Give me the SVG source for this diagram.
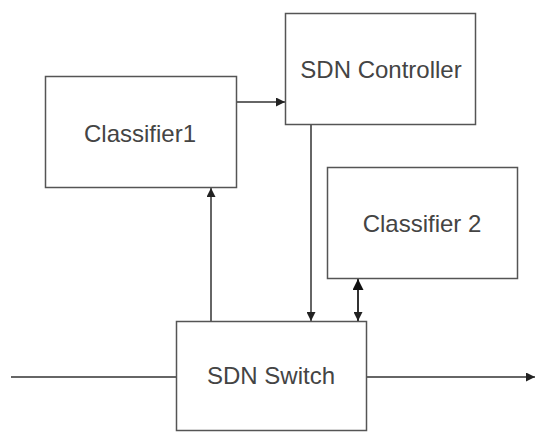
<svg xmlns="http://www.w3.org/2000/svg" width="536" height="432" viewBox="0 0 536 432">
<defs>
<marker id="ah" viewBox="0 0 10 10" refX="10" refY="5" markerWidth="9" markerHeight="9" markerUnits="userSpaceOnUse" orient="auto-start-reverse">
<path d="M0,0 L10,5 L0,10 Z" fill="#222"/>
</marker>
<marker id="ahb" viewBox="0 0 10 10" refX="10" refY="5" markerWidth="12" markerHeight="11" markerUnits="userSpaceOnUse" orient="auto-start-reverse">
<path d="M0,0 L10,5 L0,10 Z" fill="#111"/>
</marker>
</defs>
<style>
.box{fill:#fff;stroke:#555;stroke-width:1.5}
.lbl{font-family:"Liberation Sans",Arial,sans-serif;font-size:24px;fill:#444;text-anchor:middle}
.ln{stroke:#333;stroke-width:1.5;fill:none}
</style>
<rect width="536" height="432" fill="#fff"/>
<g id="connectors">
<line class="ln" x1="237" y1="102" x2="285" y2="102" marker-end="url(#ah)"/>
<line class="ln" x1="311" y1="124" x2="311" y2="321" marker-end="url(#ah)"/>
<line class="ln" x1="211" y1="321" x2="211" y2="188" marker-end="url(#ah)"/>
<line class="ln" x1="358" y1="279" x2="358" y2="321" marker-start="url(#ahb)" marker-end="url(#ah)" style="stroke-width:2"/>
<line class="ln" x1="11" y1="377" x2="176" y2="377"/>
<line class="ln" x1="367" y1="377" x2="535" y2="377" marker-end="url(#ah)"/>
</g>
<g id="classifier1">
<rect class="box" x="45.5" y="76.5" width="191" height="111"/>
<text class="lbl" x="140" y="142">Classifier1</text>
</g>
<g id="sdn-controller">
<rect class="box" x="285.5" y="13.5" width="190" height="111"/>
<text class="lbl" x="381" y="78">SDN Controller</text>
</g>
<g id="classifier2">
<rect class="box" x="327.5" y="167.5" width="190" height="111"/>
<text class="lbl" x="422" y="232">Classifier 2</text>
</g>
<g id="sdn-switch">
<rect class="box" x="176.5" y="321.5" width="190" height="109"/>
<text class="lbl" x="271" y="384">SDN Switch</text>
</g>
</svg>
